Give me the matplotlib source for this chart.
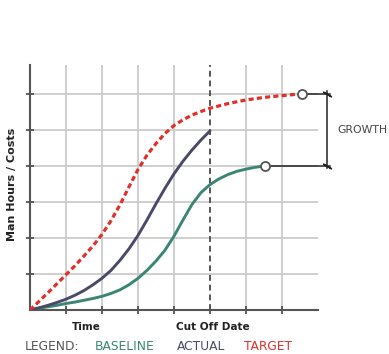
import matplotlib
matplotlib.use("Agg")
import matplotlib.pyplot as plt

# ---- data ----
target_x = [0, 0.25, 0.5, 0.75, 1.0, 1.25, 1.5, 1.75, 2.0, 2.25, 2.5, 2.75, 3.0, 3.25, 3.5, 3.75,
            4.0, 4.25, 4.5, 4.75, 5.0, 5.5, 6.0, 6.5, 7.0, 7.55]
target_y = [0, 0.24, 0.48, 0.73, 0.98, 1.23, 1.5, 1.78, 2.1, 2.48, 2.92, 3.42, 3.9, 4.3, 4.62, 4.9,
            5.12, 5.28, 5.41, 5.51, 5.6, 5.73, 5.83, 5.9, 5.95, 6.0]

actual_x = [0, 0.25, 0.5, 0.75, 1.0, 1.25, 1.5, 1.75, 2.0, 2.25, 2.5, 2.75, 3.0, 3.25, 3.5, 3.75,
            4.0, 4.25, 4.5, 4.75, 5.0]
actual_y = [0, 0.06, 0.13, 0.21, 0.3, 0.41, 0.54, 0.7, 0.88, 1.1, 1.38, 1.7, 2.07, 2.5, 2.95, 3.38,
            3.78, 4.13, 4.44, 4.72, 4.97]

baseline_x = [0, 0.25, 0.5, 0.75, 1.0, 1.25, 1.5, 1.75, 2.0, 2.25, 2.5, 2.75, 3.0, 3.25, 3.5, 3.75,
              4.0, 4.25, 4.5, 4.75, 5.0, 5.25, 5.5, 5.75, 6.0, 6.25, 6.53]
baseline_y = [0, 0.05, 0.09, 0.13, 0.18, 0.22, 0.27, 0.32, 0.38, 0.46, 0.56, 0.7, 0.88, 1.1, 1.36, 1.66,
              2.05, 2.5, 2.93, 3.26, 3.48, 3.64, 3.76, 3.85, 3.91, 3.96, 4.0]

x_grid = [1, 2, 3, 4, 6, 7]
y_grid = [1, 2, 3, 4, 5, 6]
x_ticks = [1, 2, 3, 4, 5, 6, 7]
cutoff_x = 5

legend_labels = ["LEGEND:", "BASELINE", "ACTUAL", "TARGET"]
axis_labels = ["Time", "Cut Off Date"]
y_label = "Man Hours / Costs"
growth_label = "GROWTH"

# ---- styling ----
W, H = 389, 354
c_base = "#3a8573"
c_act = "#4a4a68"
c_tgt = "#e0302a"
c_grid = "#cccccc"
c_axis = "#555555"

fig = plt.figure(figsize=(W / 100, H / 100), dpi=100)
ax = fig.add_axes([30 / W, 44 / H, 288 / W, 245 / H])
ax.set_xlim(0, 8)
ax.set_ylim(0, 6.8)

for s in ["top", "right"]:
    ax.spines[s].set_visible(False)
for s in ["left", "bottom"]:
    ax.spines[s].set_color(c_axis)
    ax.spines[s].set_linewidth(1.5)
    ax.spines[s].set_zorder(3)

ax.vlines(x_grid, 0, 6.8, color=c_grid, lw=1.3, zorder=1)
ax.hlines(y_grid, 0, 8, color=c_grid, lw=1.3, zorder=1)
ax.axvline(cutoff_x, 0, 1, color=c_axis, lw=1.4, ls=(0, (3, 2)), zorder=2)

ax.set_xticks(x_ticks)
ax.set_yticks(y_grid)
ax.set_xticklabels([])
ax.set_yticklabels([])
ax.tick_params(direction="inout", length=6, width=1.2, color="#444444")

# curves
ax.plot(baseline_x, baseline_y, color=c_base, lw=2.1, solid_capstyle="round",
        solid_joinstyle="round", zorder=4)
ax.plot(actual_x, actual_y, color=c_act, lw=2.1, solid_capstyle="round",
        solid_joinstyle="round", zorder=4)
ax.plot(target_x, target_y, color=c_tgt, lw=2.3, ls=(0, (1.6, 1.0)), zorder=5)

# growth bracket
bx = 8.25
ax.plot([target_x[-1], 8.33], [target_y[-1]] * 2, color="#222222", lw=1.1, clip_on=False, zorder=4)
ax.plot([baseline_x[-1], 8.33], [baseline_y[-1]] * 2, color="#222222", lw=1.1, clip_on=False, zorder=4)
ax.plot([bx, bx], [baseline_y[-1] - 0.07, target_y[-1] + 0.07], color="#222222", lw=1.1, clip_on=False, zorder=4)
ax.plot([bx, bx], [baseline_y[-1], target_y[-1]], ls="none", marker=(2, 2, 60), ms=7, mew=1.1,
        color="#222222", clip_on=False, zorder=4)

# end circles
ax.plot([target_x[-1]], [target_y[-1]], "o", ms=6.5, mfc="white", mec="#555555", mew=1.3, zorder=6, clip_on=False)
ax.plot([baseline_x[-1]], [baseline_y[-1]], "o", ms=6.5, mfc="white", mec="#555555", mew=1.3, zorder=6, clip_on=False)


def ftext(x, y, s, **kw):
    fig.text(x / W, 1 - y / H, s, **kw)


ftext(12.5, 184.5, y_label, rotation=90, ha="center", va="center", fontsize=8, fontweight="bold", color="#222222")
ftext(86, 327, axis_labels[0], ha="center", va="center", fontsize=7.5, fontweight="bold", color="#222222")
ftext(213, 327, axis_labels[1], ha="center", va="center", fontsize=7.6, fontweight="bold", color="#222222")
ftext(337, 130, growth_label, ha="left", va="center", fontsize=7.8, color="#444444")

leg_x = [25, 95, 177, 244]
leg_c = ["#555555", c_base, c_act, c_tgt]
for lx, lab, lc in zip(leg_x, legend_labels, leg_c):
    ftext(lx, 346, lab, ha="left", va="center", fontsize=8.8, color=lc)

fig.savefig("out.png", dpi=100)
